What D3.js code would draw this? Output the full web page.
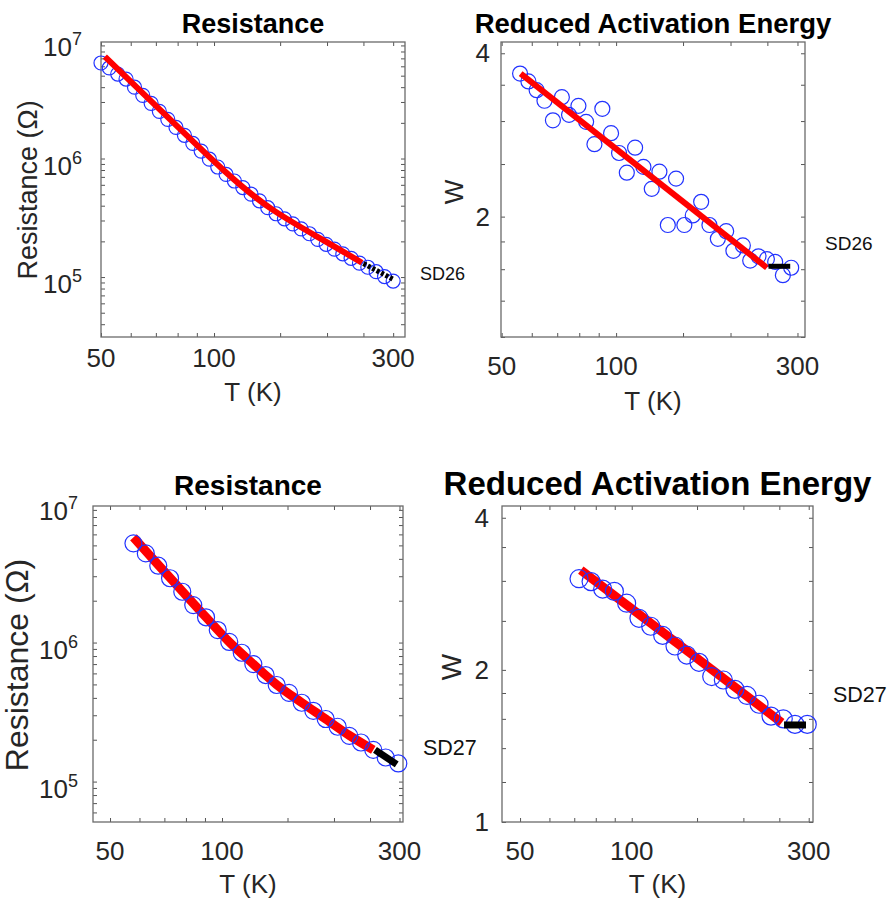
<!DOCTYPE html>
<html>
<head>
<meta charset="utf-8">
<script src="https://cdn.jsdelivr.net/npm/d3@7"></script>
<style>
  body { margin: 0; background: #fff; }
  text { font-family: "Liberation Sans", Arial, sans-serif; fill: #262626; }
</style>
</head>
<body>
<svg id="fig" width="893" height="906"></svg>
<script>
// SD26 resistance (top left)
const tempSD26 = [50, 52.6, 55.4, 58.3, 61.4, 64.6, 68.0, 71.5, 75.3, 79.2, 83.4, 87.8, 92.4, 97.2, 102.3, 107.7, 113.3, 119.3,
  125.5, 132.1, 139.0, 146.3, 154.0, 162.1, 170.6, 179.5, 188.9, 198.9, 209.3, 220.3, 231.8, 244.0, 256.8, 270.3, 284.5, 300];
const resSD26 = [6.40e6, 5.81e6, 5.16e6, 4.68e6, 4.00e6, 3.41e6, 2.92e6, 2.50e6, 2.14e6, 1.83e6, 1.57e6, 1.34e6, 1.155e6,
  9.87e5, 8.48e5, 7.34e5, 6.46e5, 5.69e5, 5.00e5, 4.40e5, 3.85e5, 3.42e5, 3.10e5, 2.81e5, 2.55e5, 2.32e5, 2.08e5, 1.89e5,
  1.72e5, 1.57e5, 1.44e5, 1.31e5, 1.21e5, 1.11e5, 1.01e5, 9.25e4];
const fitTempSD26 = [51.2, 70.4, 105.9, 143.8, 195.4, 247.7];
const fitResSD26 = [7.23e6, 2.74e6, 8.0e5, 3.67e5, 2.05e5, 1.32e5];
const highTempSD26 = [250, 300];
const highResSD26 = [1.30e5, 9.58e4];

// SD26 reduced activation energy (top right)
const wTempSD26 = [55.9, 58.8, 61.8, 64.8, 68.2, 72.0, 75.2, 79.6, 83.4, 87.7, 92.0, 97.0, 101.8, 106.7, 112.2, 118.0, 124.1,
  130.0, 136.8, 143.8, 151.2, 159.1, 167.4, 176.0, 185.2, 194.8, 203.5, 215.5, 225.3, 236.9, 249.3, 262.1, 274.6, 288.8];
const wSD26 = [3.67, 3.55, 3.42, 3.27, 3.01, 3.32, 3.08, 3.20, 2.99, 2.72, 3.16, 2.85, 2.62, 2.41, 2.68, 2.47, 2.25, 2.42,
  1.93, 2.35, 1.93, 2.01, 2.13, 1.93, 1.82, 1.88, 1.73, 1.77, 1.66, 1.69, 1.67, 1.65, 1.56, 1.61];
const wFitTempSD26 = [56.1, 249.3];
const wFitSD26 = [3.67, 1.61];
const wHighTempSD26 = [251.7, 287.1];
const wHighSD26 = [1.62, 1.62];

// SD27 resistance (bottom left)
const tempSD27 = [57.8, 62.4, 67.4, 72.5, 78.2, 83.7, 90.6, 97.4, 104.6, 113, 121.4, 131, 140.3, 151.4, 163.8, 176, 190,
  204.6, 219.9, 236.4, 255.1, 275.4, 297.8];
const resSD27 = [5.17e6, 4.38e6, 3.57e6, 2.90e6, 2.32e6, 1.86e6, 1.52e6, 1.23e6, 1.01e6, 8.45e5, 7.0e5, 5.84e5, 4.95e5,
  4.35e5, 3.69e5, 3.23e5, 2.82e5, 2.48e5, 2.13e5, 1.91e5, 1.69e5, 1.49e5, 1.35e5];
const fitTempSD27 = [57.8, 67.4, 78.2, 90.6, 104.6, 121.4, 140.3, 163.8, 190, 219.9, 255.1];
const fitResSD27 = [5.71e6, 3.62e6, 2.34e6, 1.52e6, 1.01e6, 7.0e5, 4.98e5, 3.70e5, 2.82e5, 2.15e5, 1.69e5];
const highTempSD27 = [257.8, 294.9];
const highResSD27 = [1.69e5, 1.33e5];

// SD27 reduced activation energy (bottom right)
const wTempSD27 = [72.1, 77.7, 83.5, 89.8, 96.9, 104.6, 112.5, 121.2, 130.8, 140.7, 151.8, 164.3, 176.6, 189.8, 204.6,
  220.4, 237.4, 256.2, 275.5, 297.3];
const wSD27 = [3.03, 2.99, 2.89, 2.86, 2.71, 2.53, 2.44, 2.34, 2.23, 2.14, 2.07, 1.94, 1.91, 1.83, 1.78, 1.71, 1.62,
  1.60, 1.56, 1.56];
const wFitTempSD27 = [72.9, 253.7];
const wFitSD27 = [3.15, 1.573];
const wHighTempSD27 = [257.4, 295];
const wHighSD27 = [1.556, 1.556];

// ticks
const tempTicks = [40, 50, 60, 70, 80, 90, 100, 150, 200, 250, 300];
const tempLabels = [50, 100, 300];
const resLabels = [1e5, 1e6, 1e7];
const wTicks = [1, 1.2, 1.4, 1.6, 1.8, 2, 2.5, 3, 3.5, 4];
const wLabels = [1, 2, 4];

const svg = d3.select('#fig');
const zip = (a, b) => a.map((v, i) => [v, b[i]]);

function panel(p) {
  const x = d3.scaleLog().domain(p.xDomain).range([p.left, p.right]);
  const y = d3.scaleLog().domain(p.yDomain).range([p.bottom, p.top]);
  const g = svg.append('g');

  const xt = tempTicks.filter(t => t >= p.xDomain[0] && t <= p.xDomain[1]);
  const yt = p.logTen
    ? y.ticks().filter(t => t >= p.yDomain[0] && t <= p.yDomain[1])
    : wTicks.filter(t => t >= p.yDomain[0] && t <= p.yDomain[1]);

  const axes = [
    [d3.axisBottom(x).tickValues(xt), `translate(0,${p.bottom})`],
    [d3.axisTop(x).tickValues(xt), `translate(0,${p.top})`],
    [d3.axisLeft(y).tickValues(yt), `translate(${p.left},0)`],
    [d3.axisRight(y).tickValues(yt), `translate(${p.right},0)`]
  ];
  axes.forEach(([ax, tr]) => {
    const a = g.append('g').attr('transform', tr)
      .call(ax.tickSizeInner(-4).tickSizeOuter(0).tickFormat(''));
    a.select('.domain').remove();
    a.selectAll('line').attr('stroke', '#555').attr('stroke-width', 1);
  });
  g.append('rect')
    .attr('x', p.left).attr('y', p.top)
    .attr('width', p.right - p.left).attr('height', p.bottom - p.top)
    .attr('fill', 'none').attr('stroke', '#6a6a6a').attr('stroke-width', 1.3);

  const line = d3.line().x(d => x(d[0])).y(d => y(d[1])).curve(p.curve || d3.curveMonotoneX);

  const drawCircles = () => g.append('g').selectAll('circle')
    .data(zip(p.t, p.v)).join('circle')
    .attr('cx', d => x(d[0])).attr('cy', d => y(d[1])).attr('r', p.r)
    .attr('fill', 'none').attr('stroke', '#2233ff').attr('stroke-width', 1.2);
  const drawFit = () => g.append('path').datum(zip(p.fitT, p.fitV))
    .attr('d', line).attr('fill', 'none').attr('stroke', '#ff0000')
    .attr('stroke-width', p.fitW).attr('stroke-linecap', 'butt');
  const drawHigh = () => g.append('path').datum(zip(p.highT, p.highV))
    .attr('d', line).attr('fill', 'none').attr('stroke', '#000')
    .attr('stroke-width', p.highW).attr('stroke-dasharray', p.dash || null);

  if (p.circlesOnTop) { drawFit(); drawCircles(); } else { drawCircles(); drawFit(); }
  drawHigh();

  // x tick labels
  tempLabels.forEach(t => {
    g.append('text').attr('x', x(t)).attr('y', p.xLabelY)
      .attr('text-anchor', 'middle').attr('font-size', 26).text(t);
  });
  // y tick labels
  if (p.logTen) {
    resLabels.forEach(v => {
      const tx = g.append('text').attr('x', p.left - p.yLabelGap).attr('y', y(v) + 16)
        .attr('text-anchor', 'end').attr('font-size', 26);
      tx.append('tspan').text('10');
      tx.append('tspan').attr('dy', -11).attr('font-size', 18).text(Math.round(Math.log10(v)));
    });
  } else {
    wLabels.filter(v => v >= p.yDomain[0] && v <= p.yDomain[1]).forEach(v => {
      g.append('text').attr('x', p.left - p.yLabelGap).attr('y', y(v) + 9)
        .attr('text-anchor', 'end').attr('font-size', 26).text(v);
    });
  }
  // axis titles
  g.append('text').attr('x', (p.left + p.right) / 2).attr('y', p.xTitleY)
    .attr('text-anchor', 'middle').attr('font-size', 26).text('T (K)');
  g.append('text')
    .attr('transform', `translate(${p.yTitleX},${p.yTitleY}) rotate(-90)`)
    .attr('dy', '0.35em').attr('text-anchor', 'middle')
    .attr('font-size', p.yTitleSize).text(p.yTitle);
  g.append('text').attr('x', (p.left + p.right) / 2).attr('y', p.titleY)
    .attr('text-anchor', 'middle').attr('font-size', p.titleSize)
    .attr('font-weight', 'bold').style('fill', '#000').text(p.title);
  // sample tag
  g.append('text').attr('x', p.tagX).attr('y', p.tagY)
    .attr('font-size', p.tagSize).style('fill', '#111').text(p.tag);
}

panel({
  left: 101, right: 405, top: 42, bottom: 337,
  xDomain: [50, 322.6], yDomain: [3.12e4, 9.62e6], logTen: true, curve: d3.curveNatural,
  t: tempSD26, v: resSD26, fitT: fitTempSD26, fitV: fitResSD26,
  highT: highTempSD26, highV: highResSD26, r: 7, fitW: 6, highW: 5, dash: '3,2',
  xLabelY: 367, xTitleY: 401, yLabelGap: 19,
  yTitle: 'Resistance (\u03A9)', yTitleX: 28, yTitleY: 190, yTitleSize: 27,
  title: 'Resistance', titleY: 33, titleSize: 27,
  tag: 'SD26', tagX: 420, tagY: 280, tagSize: 18
});

panel({
  left: 501, right: 805, top: 42, bottom: 337,
  xDomain: [49.8, 314], yDomain: [1.2, 4.196], logTen: false,
  t: wTempSD26, v: wSD26, fitT: wFitTempSD26, fitV: wFitSD26,
  highT: wHighTempSD26, highV: wHighSD26, r: 7.5, fitW: 6, highW: 5,
  xLabelY: 375, xTitleY: 410, yLabelGap: 11,
  yTitle: 'W', yTitleX: 454, yTitleY: 192, yTitleSize: 26,
  title: 'Reduced Activation Energy', titleY: 33, titleSize: 27.5,
  tag: 'SD26', tagX: 825, tagY: 250, tagSize: 19
});

panel({
  left: 93, right: 403, top: 506, bottom: 822,
  xDomain: [45, 306.6], yDomain: [5.12e4, 9.6e6], logTen: true, circlesOnTop: true,
  t: tempSD27, v: resSD27, fitT: fitTempSD27, fitV: fitResSD27,
  highT: highTempSD27, highV: highResSD27, r: 8.5, fitW: 9, highW: 7,
  xLabelY: 860, xTitleY: 893, yLabelGap: 15,
  yTitle: 'Resistance (\u03A9)', yTitleX: 17, yTitleY: 665, yTitleSize: 32,
  title: 'Resistance', titleY: 495, titleSize: 28,
  tag: 'SD27', tagX: 423, tagY: 755, tagSize: 21.5
});

panel({
  left: 502, right: 813, top: 506, bottom: 822,
  xDomain: [44.7, 308.1], yDomain: [1, 4.22], logTen: false, circlesOnTop: true,
  t: wTempSD27, v: wSD27, fitT: wFitTempSD27, fitV: wFitSD27,
  highT: wHighTempSD27, highV: wHighSD27, r: 9, fitW: 9, highW: 7,
  xLabelY: 860, xTitleY: 893, yLabelGap: 13,
  yTitle: 'W', yTitleX: 451, yTitleY: 667, yTitleSize: 28,
  title: 'Reduced Activation Energy', titleY: 495, titleSize: 33,
  tag: 'SD27', tagX: 833, tagY: 702, tagSize: 21.5
});
</script>
</body>
</html>
